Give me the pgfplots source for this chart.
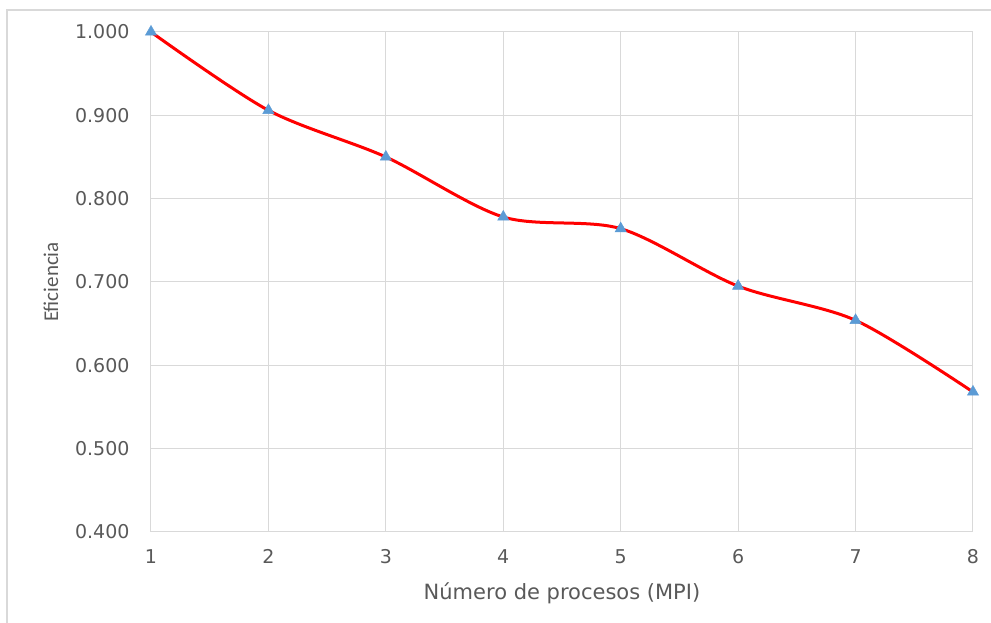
\documentclass[border=0pt]{standalone}
\usepackage{pgfplots}
\pgfplotsset{compat=1.18}
\usepackage{fontspec}
\setmainfont{DejaVu Sans}
\newfontfamily\carlito{Carlito}
\definecolor{gridc}{RGB}{217,217,217}
\definecolor{axc}{RGB}{200,200,200}
\definecolor{markc}{RGB}{91,155,213}
\definecolor{txt}{RGB}{89,89,89}
\begin{document}
\begin{tikzpicture}
\path[use as bounding box] (0,0) rectangle (991pt,623pt);
\draw[gridc, line width=2pt] (7pt,0) -- (7pt,613pt) -- (991pt,613pt);
\begin{axis}[
  at={(151pt,91pt)}, anchor=south west,
  scale only axis, width=822pt, height=500pt,
  xmin=1, xmax=8, ymin=0.4, ymax=1.0,
  xtick={1,...,8}, ytick={0.4,0.5,...,1.0},
  grid=major, major grid style={gridc, line width=1pt},
  axis line style={gridc, line width=1pt},
  tick style={draw=none},
  /pgf/number format/assume math mode=true,
  yticklabel style={/pgf/number format/fixed, /pgf/number format/fixed zerofill, /pgf/number format/precision=3, font=\fontsize{19}{19}\selectfont, text=txt},
  xticklabel style={font=\fontsize{19}{19}\selectfont, text=txt},
  yticklabel style={xshift=-18pt},
  xticklabel style={yshift=-14pt},
  xlabel={Número de procesos (MPI)},
  xlabel style={font=\fontsize{21}{21}\selectfont, text=txt, yshift=-12pt},
  ylabel={\carlito Eficiencia},
  ylabel style={font=\fontsize{21}{21}\selectfont, text=txt, yshift=10pt},
  clip=false,
]
\addplot[red, line width=3pt, smooth, tension=0.5, mark=triangle*, mark size=6.5pt,
  mark options={fill=markc, draw=markc, line width=0.5pt}]
  coordinates {(1,1.000) (2,0.906) (3,0.850) (4,0.778) (5,0.764) (6,0.695) (7,0.654) (8,0.568)};
\end{axis}
\end{tikzpicture}
\end{document}
